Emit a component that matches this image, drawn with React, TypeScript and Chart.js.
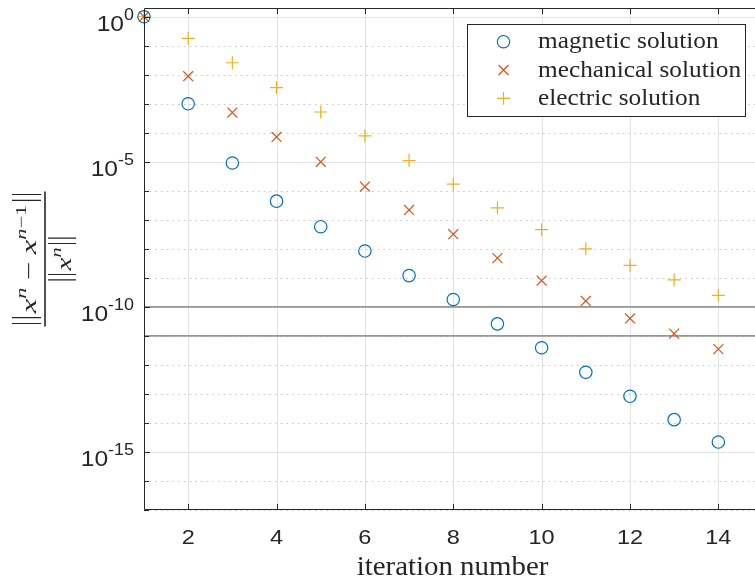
import React, { useEffect, useRef } from "react";
import { Chart, registerables } from "chart.js";

Chart.register(...registerables);

// ---------- data ----------
const iterations = [1, 2, 3, 4, 5, 6, 7, 8, 9, 10, 11, 12, 13, 14];
const magnetic = [1, 1.0e-3, 9.1e-6, 4.4e-7, 5.8e-8, 8.4e-9, 1.2e-9, 1.8e-10, 2.6e-11, 3.9e-12, 5.6e-13, 8.3e-14, 1.3e-14, 2.2e-15];
const mechanical = [1, 8.9e-3, 5.0e-4, 7.2e-5, 1.0e-5, 1.4e-6, 2.2e-7, 3.2e-8, 4.8e-9, 8.1e-10, 1.6e-10, 4.0e-11, 1.2e-11, 3.5e-12];
const electric = [1, 0.18, 2.6e-2, 3.6e-3, 5.2e-4, 7.8e-5, 1.1e-5, 1.7e-6, 2.6e-7, 4.6e-8, 1.0e-8, 2.7e-9, 8.5e-10, 2.5e-10];
const seriesNames = ["magnetic solution", "mechanical solution", "electric solution"];
const xTicks = [2, 4, 6, 8, 10, 12, 14];
const yExponents = [-17, -16, -15, -14, -13, -12, -11, -10, -9, -8, -7, -6, -5, -4, -3, -2, -1, 0];
const yLabelExponents = [0, -5, -10, -15];
const toleranceLines = [1e-10, 1e-11];
const xLabel = "iteration number";

const BLUE = "#0072BD";
const RED = "#D95319";
const YELLOW = "#EDB120";
const AXIS = "#262626";
const SANS = '"Liberation Sans", Arial, sans-serif';
const SERIF = '"Liberation Serif", "Times New Roman", serif';

function txt(ctx: CanvasRenderingContext2D, s: string, x: number, y: number, font: string, align: CanvasTextAlign, sx = 1) {
  ctx.save();
  ctx.font = font;
  ctx.textAlign = align;
  ctx.textBaseline = "alphabetic";
  ctx.translate(x, y);
  ctx.scale(sx, 1);
  ctx.fillText(s, 0, 0);
  ctx.restore();
}

function marker(ctx: CanvasRenderingContext2D, kind: number, x: number, y: number) {
  ctx.save();
  ctx.lineWidth = 1.2;
  ctx.beginPath();
  if (kind === 0) {
    ctx.strokeStyle = BLUE;
    ctx.arc(x, y, 6.2, 0, Math.PI * 2);
  } else if (kind === 1) {
    ctx.strokeStyle = RED;
    const d = 5;
    ctx.moveTo(x - d, y - d); ctx.lineTo(x + d, y + d);
    ctx.moveTo(x - d, y + d); ctx.lineTo(x + d, y - d);
  } else {
    ctx.strokeStyle = YELLOW;
    const d = 6.5;
    ctx.moveTo(x - d, y); ctx.lineTo(x + d, y);
    ctx.moveTo(x, y - d); ctx.lineTo(x, y + d);
  }
  ctx.stroke();
  ctx.restore();
}

type Part = { t: string; font?: string; dy?: number; norm?: boolean; gap?: number };

function mathRow(ctx: CanvasRenderingContext2D, parts: Part[], cx: number, baseline: number, target: number, normTop: number, normBot: number) {
  let W = 0;
  const widths: number[] = [];
  for (const p of parts) {
    let w = 0;
    if (p.norm) w = 8;
    else if (p.gap) w = p.gap;
    else { ctx.font = p.font!; w = ctx.measureText(p.t).width; }
    widths.push(w);
    W += w;
  }
  const s = target / W;
  ctx.save();
  ctx.translate(cx - target / 2, baseline);
  ctx.scale(s, 1);
  let x = 0;
  parts.forEach((p, i) => {
    if (p.norm) {
      ctx.save();
      ctx.strokeStyle = AXIS;
      ctx.lineWidth = 1.1 / s;
      ctx.beginPath();
      ctx.moveTo(x + 2, normTop); ctx.lineTo(x + 2, normBot);
      ctx.moveTo(x + 6, normTop); ctx.lineTo(x + 6, normBot);
      ctx.stroke();
      ctx.restore();
    } else if (!p.gap) {
      ctx.font = p.font!;
      ctx.textAlign = "left";
      ctx.fillText(p.t, x, p.dy || 0);
    }
    x += widths[i];
  });
  ctx.restore();
}

const drawPlugin = {
  id: "matlabLook",
  beforeDatasetsDraw(chart: any) {
    const { ctx, chartArea: a, scales } = chart;
    const xs = scales.x, ys = scales.y;
    ctx.save();
    // vertical grid
    ctx.strokeStyle = "#e3e3e3";
    ctx.lineWidth = 1;
    for (const v of xTicks) {
      const px = Math.round(xs.getPixelForValue(v)) + 0.5;
      ctx.beginPath(); ctx.moveTo(px, a.top); ctx.lineTo(px, a.bottom); ctx.stroke();
    }
    // horizontal grid
    for (const e of yExponents) {
      const py = Math.round(ys.getPixelForValue(Math.pow(10, e))) + 0.5;
      ctx.beginPath();
      if (e % 5 === 0) { ctx.setLineDash([]); ctx.strokeStyle = "#e3e3e3"; }
      else { ctx.setLineDash([1.5, 4.2]); ctx.strokeStyle = "#c4c4c4"; }
      ctx.moveTo(a.left, py); ctx.lineTo(a.right, py); ctx.stroke();
    }
    ctx.setLineDash([]);
    // tolerance lines
    ctx.strokeStyle = "#979797";
    ctx.lineWidth = 1.6;
    for (const v of toleranceLines) {
      const py = ys.getPixelForValue(v);
      ctx.beginPath(); ctx.moveTo(a.left, py); ctx.lineTo(a.right, py); ctx.stroke();
    }
    ctx.restore();
  },
  afterDraw(chart: any) {
    const { ctx, chartArea: a, scales } = chart;
    const xs = scales.x, ys = scales.y;
    ctx.save();
    // axes box (left, bottom, top)
    ctx.strokeStyle = AXIS;
    ctx.lineWidth = 1;
    ctx.beginPath();
    ctx.moveTo(a.right, a.top + 0.5); ctx.lineTo(a.left + 0.5, a.top + 0.5);
    ctx.lineTo(a.left + 0.5, a.bottom - 0.5); ctx.lineTo(a.right, a.bottom - 0.5);
    ctx.stroke();
    // x ticks
    ctx.beginPath();
    for (const v of xTicks) {
      const px = Math.round(xs.getPixelForValue(v)) + 0.5;
      ctx.moveTo(px, a.bottom); ctx.lineTo(px, a.bottom - 6);
      ctx.moveTo(px, a.top); ctx.lineTo(px, a.top + 6);
    }
    // y ticks
    for (const e of yExponents) {
      const py = Math.round(ys.getPixelForValue(Math.pow(10, e))) + 0.5;
      ctx.moveTo(a.left, py); ctx.lineTo(a.left + (e % 5 === 0 ? 6 : 5), py);
    }
    ctx.stroke();
    // tick labels
    ctx.fillStyle = AXIS;
    for (const v of xTicks) {
      txt(ctx, String(v), xs.getPixelForValue(v), a.bottom + 34, `21px ${SANS}`, "center", 1.12);
    }
    for (const e of yLabelExponents) {
      const py = ys.getPixelForValue(Math.pow(10, e));
      const right = 134;
      const expStr = e === 0 ? "0" : "-" + String(-e);
      ctx.font = `16px ${SANS}`;
      const ew = ctx.measureText(expStr).width * 1.12;
      txt(ctx, expStr, right, py + 3, `16px ${SANS}`, "right", 1.12);
      txt(ctx, "10", right - ew, py + 14.5, `22px ${SANS}`, "right", 1.12);
    }
    // x axis title
    txt(ctx, xLabel, 452.5, 575, `27px ${SERIF}`, "center", 1.07);

    // y axis label: fraction
    ctx.save();
    ctx.translate(45, 259);
    ctx.rotate(-Math.PI / 2);
    ctx.fillStyle = AXIS;
    ctx.strokeStyle = AXIS;
    ctx.lineWidth = 1.6;
    ctx.beginPath(); ctx.moveTo(-67.5, 0); ctx.lineTo(67.5, 0); ctx.stroke();
    const it = `italic 22px ${SERIF}`;
    const itS = `italic 15px ${SERIF}`;
    const upS = `15px ${SERIF}`;
    const up = `22px ${SERIF}`;
    mathRow(ctx, [
      { t: "", norm: true }, { t: "", gap: 1 },
      { t: "x", font: it }, { t: "n", font: itS, dy: -10 },
      { t: "", gap: 5 }, { t: "\u2212", font: up }, { t: "", gap: 5 },
      { t: "x", font: it }, { t: "n", font: itS, dy: -10 }, { t: "\u2212", font: upS, dy: -10 }, { t: "1", font: upS, dy: -10 },
      { t: "", gap: 1 }, { t: "", norm: true },
    ], 0, -9, 135, 5, -24);
    mathRow(ctx, [
      { t: "", norm: true }, { t: "", gap: 1 },
      { t: "x", font: it }, { t: "n", font: itS, dy: -10 },
      { t: "", gap: 1 }, { t: "", norm: true },
    ], 0, 26, 47, 5, -23);
    ctx.restore();

    // legend
    const lx = 467.5, ly = 24.5, lw = 278, lh = 92;
    ctx.fillStyle = "#ffffff";
    ctx.fillRect(lx, ly, lw, lh);
    ctx.strokeStyle = AXIS;
    ctx.lineWidth = 1;
    ctx.strokeRect(lx, ly, lw, lh);
    const rows = [41.7, 70, 98.3];
    seriesNames.forEach((name, i) => {
      marker(ctx, i, 503.5, rows[i]);
      ctx.fillStyle = AXIS;
      txt(ctx, name, 538, rows[i] + 6.5, `23px ${SERIF}`, "left", 1.1);
    });
    ctx.restore();
  },
};

export default function App() {
  const ref = useRef<HTMLCanvasElement>(null);
  useEffect(() => {
    if (!ref.current) return;
    const mk = (vals: number[]) => iterations.map((x, i) => ({ x, y: vals[i] }));
    const chart = new Chart(ref.current, {
      type: "scatter",
      data: {
        datasets: [
          { label: seriesNames[0], data: mk(magnetic), pointStyle: "circle", radius: 6.2, borderColor: BLUE, backgroundColor: "rgba(0,0,0,0)", borderWidth: 1.2, clip: false } as any,
          { label: seriesNames[1], data: mk(mechanical), pointStyle: "crossRot", radius: 7, borderColor: RED, backgroundColor: RED, borderWidth: 1.2, clip: false } as any,
          { label: seriesNames[2], data: mk(electric), pointStyle: "cross", radius: 6.5, borderColor: YELLOW, backgroundColor: YELLOW, borderWidth: 1.2, clip: false } as any,
        ],
      },
      options: {
        animation: false,
        responsive: false,
        events: [],
        layout: { autoPadding: false, padding: { left: 144, right: 0, top: 8, bottom: 70 } },
        scales: {
          x: { type: "linear", min: 1, max: 14.83, display: false },
          y: { type: "logarithmic", min: 1e-17, max: 2, display: false },
        },
        plugins: { legend: { display: false }, tooltip: { enabled: false } },
      },
      plugins: [drawPlugin],
    });
    return () => chart.destroy();
  }, []);
  return (
    <div style={{ position: "fixed", left: 0, top: 0, width: 755, height: 580, background: "#fff" }}>
      <canvas ref={ref} width={755} height={580} style={{ display: "block" }} />
    </div>
  );
}
